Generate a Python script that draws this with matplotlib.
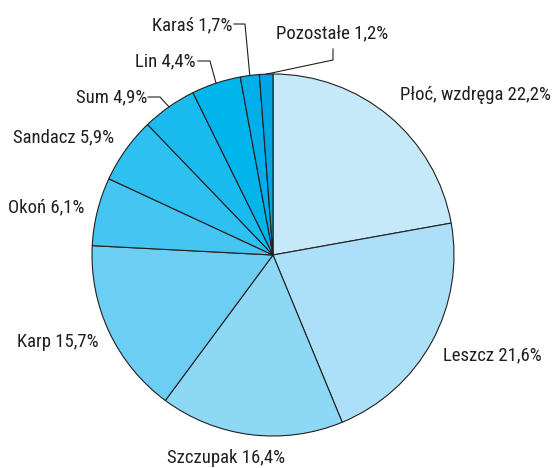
import numpy as np
import matplotlib
matplotlib.use("Agg")
import matplotlib.pyplot as plt

# share of catch per species (%)
species = ["Płoć, wzdręga", "Leszcz", "Szczupak", "Karp", "Okoń",
           "Sandacz", "Sum", "Lin", "Karaś", "Pozostałe"]
shares = [22.2, 21.6, 16.4, 15.7, 6.1, 5.9, 4.9, 4.4, 1.7, 1.2]
share_labels = ["22,2%", "21,6%", "16,4%", "15,7%", "6,1%",
                "5,9%", "4,9%", "4,4%", "1,7%", "1,2%"]
colors = ["#c6e9f9", "#abe0f8", "#8dd8f5", "#6ccef3", "#45c5f1",
          "#2ec0f0", "#1abcef", "#00b4ec", "#00aeea", "#00a6e4"]

plt.rcParams['font.family'] = ['Roboto Condensed', 'DejaVu Sans']
TXT = "#231f20"

W, H = 556, 468
fig = plt.figure(figsize=(W / 100, H / 100), dpi=100)
ax = fig.add_axes([0, 0, 1, 1])

cx, cy, r = 273, H - 255, 181
wedges, _ = ax.pie(shares, colors=colors, startangle=90, counterclock=False,
                   center=(cx, cy), radius=r, frame=True,
                   wedgeprops=dict(edgecolor=TXT, linewidth=0.8))
ax.set_xlim(0, W)
ax.set_ylim(0, H)
ax.set_aspect("equal")
ax.axis("off")

# label placement (image pixel coords: anchor x, y from top, ha)
label_pos = [(400, 95, "left"), (443, 355, "left"), (167, 458, "left"),
             (17, 342, "left"), (8, 207, "left"), (13, 137, "left"),
             (147, 97, "right"), (196, 61, "right"), (232, 25, "right"),
             (276, 33, "left")]
# elbow points for the leader lines of small slices
elbows = {6: [(148, 97), (160, 97)], 7: [(198, 61), (210, 61)],
          8: [(234, 24), (245, 24)], 9: [(333, 49), (333, 60)]}

for i, (name, lab) in enumerate(zip(species, share_labels)):
    x, y, ha = label_pos[i]
    ax.text(x, H - y, f"{name} {lab}", ha=ha, va="center",
            fontsize=13.5, color=TXT)
    if i in elbows:
        w = wedges[i]
        mid = np.deg2rad((w.theta1 + w.theta2) / 2)
        ex, ey = cx + r * np.cos(mid), cy + r * np.sin(mid)
        pts = [(px, H - py) for px, py in elbows[i]] + [(ex, ey)]
        ax.plot([p[0] for p in pts], [p[1] for p in pts],
                color=TXT, linewidth=0.8)

fig.savefig("out.png", dpi=100)
